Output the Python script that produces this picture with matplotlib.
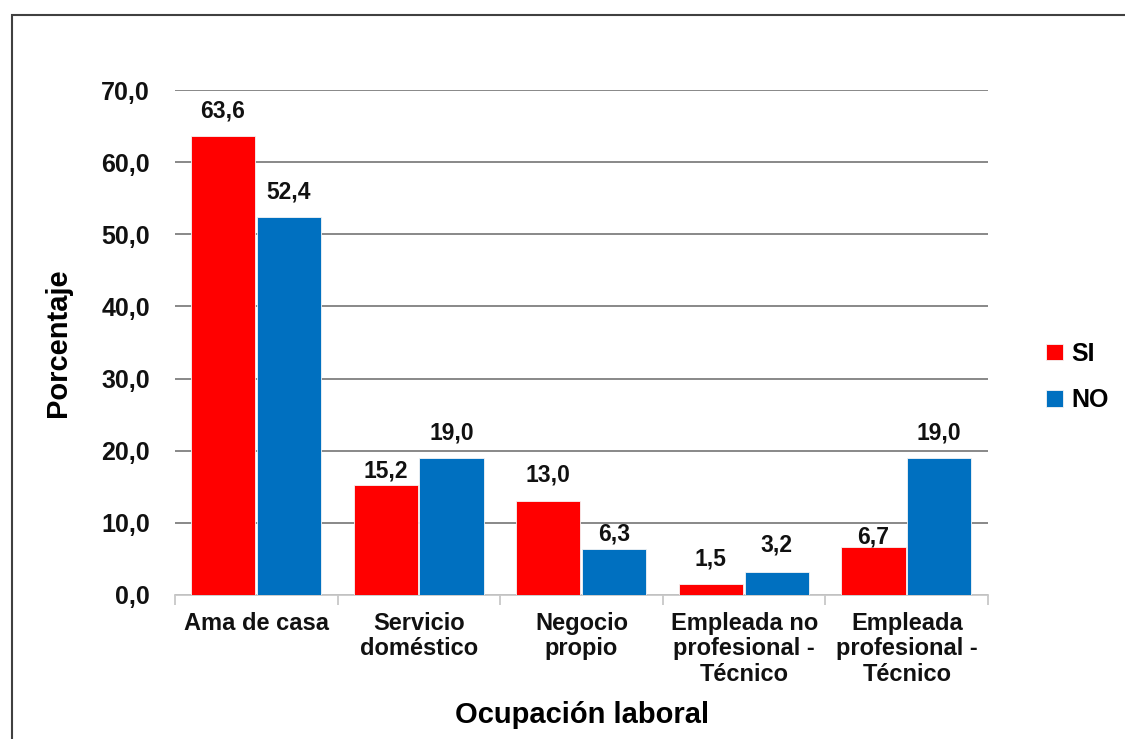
import numpy as np
import matplotlib.pyplot as plt
from matplotlib.patches import Rectangle

plt.rcParams['font.family'] = ['Liberation Sans', 'DejaVu Sans']
plt.rcParams['font.weight'] = 'bold'

categorias = ['Ama de casa', 'Servicio\ndoméstico', 'Negocio\npropio',
              'Empleada no\nprofesional -\nTécnico', 'Empleada\nprofesional -\nTécnico']
si = [63.6, 15.2, 13.0, 1.5, 6.7]
no = [52.4, 19.0, 6.3, 3.2, 19.0]

# desplazamiento vertical de cada etiqueta (puntos), como en el original
off_si = [18, 10, 19, 18, 7]
off_no = [18, 18, 11, 19, 18]

rojo = '#FF0000'
azul = '#0070C0'

fig = plt.figure(figsize=(11.25, 7.39), dpi=100)
ax = fig.add_axes([0.1556, 0.195, 0.7227, 0.6832])

x = np.arange(len(categorias))
w = 0.395
b1 = ax.bar(x - 0.205, si, w, color=rojo, edgecolor='#f5f5f5', linewidth=0.6, label='SI', zorder=3)
b2 = ax.bar(x + 0.2, no, w, color=azul, edgecolor='#f5f5f5', linewidth=0.6, label='NO', zorder=3)

def fmt(v):
    return f'{v:.1f}'.replace('.', ',')

for barras, offs in [(b1, off_si), (b2, off_no)]:
    for b, o in zip(barras, offs):
        h = b.get_height()
        ax.annotate(fmt(h), (b.get_x() + b.get_width() / 2, h),
                    xytext=(0, o), textcoords='offset points',
                    ha='center', va='center', fontsize=16.5, fontweight='bold', color='#111111')

ax.set_ylim(0, 70)
ax.set_xlim(-0.5, len(categorias) - 0.5)
ax.set_yticks(np.arange(0, 71, 10))
ax.set_yticklabels([fmt(v) for v in np.arange(0, 71, 10)])
ax.yaxis.grid(True, color='#7f7f7f', linewidth=1.3, zorder=0)
ax.set_axisbelow(True)
for s in ['top', 'right', 'left']:
    ax.spines[s].set_visible(False)
ax.spines['bottom'].set_color('#c8c8c8')
ax.spines['bottom'].set_linewidth(1.3)
ax.tick_params(axis='y', length=0, labelsize=18, pad=18, colors='#111111')

ax.set_xticks(x)
ax.set_xticklabels(categorias, fontsize=17, linespacing=1.15)
ax.tick_params(axis='x', length=0, pad=12, colors='#111111')
ax.set_xticks(np.arange(-0.5, len(categorias)), minor=True)
ax.tick_params(axis='x', which='minor', length=7, color='#c8c8c8', width=1.3)

ax.set_ylabel('Porcentaje', fontsize=21, fontweight='bold', labelpad=21)
ax.set_xlabel('Ocupación laboral', fontsize=21, fontweight='bold', labelpad=11)

leg = ax.legend(loc='center left', bbox_to_anchor=(0.91, 0.49), bbox_transform=fig.transFigure,
                frameon=False, fontsize=18, handlelength=0.65, handleheight=0.65,
                handletextpad=0.35, labelspacing=0.9)

fig.patches.append(Rectangle((0.011, -0.01), 0.99, 0.99, transform=fig.transFigure,
                             fill=False, edgecolor='#404040', linewidth=1.5))

fig.savefig('out.png', dpi=100)
